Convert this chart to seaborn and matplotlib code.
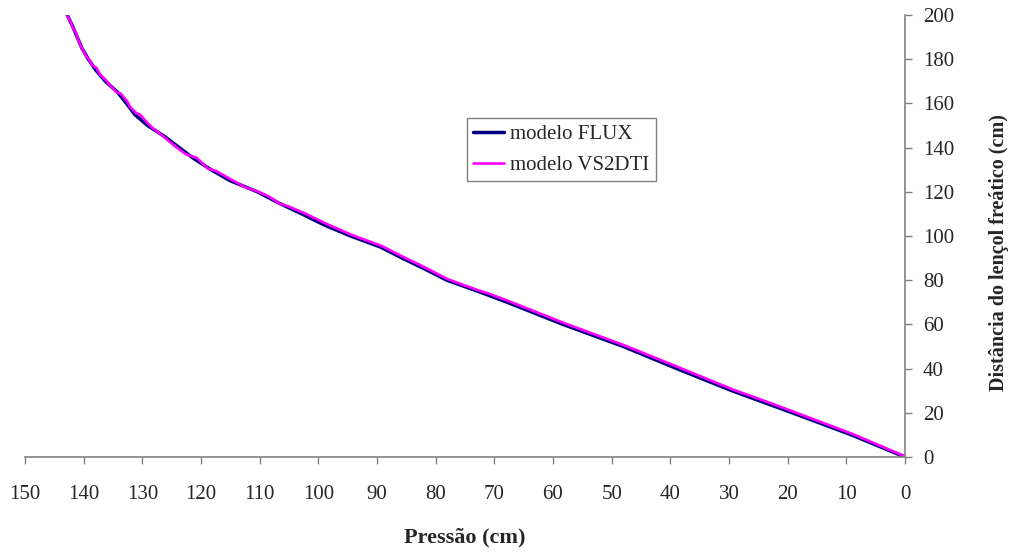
import matplotlib
matplotlib.use("Agg")
import matplotlib.pyplot as plt
import seaborn as sns
import pandas as pd

# ---- data ----
flux_depth = [0, 10, 20, 30, 40, 50, 60, 70, 75, 80, 85, 90, 95, 100, 105, 110,
              115, 120, 125, 130, 135, 140, 145, 150, 155, 160, 165, 170, 175,
              180, 185, 190, 195, 200]
flux_pressure = [0, 9.1, 19.2, 29.5, 38.9, 48.0, 58.3, 67.8, 72.8, 78.1, 81.8,
                 85.7, 89.4, 94.5, 99.0, 102.8, 106.8, 110.4, 115.0, 118.3,
                 121.2, 123.7, 126.2, 129.1, 131.3, 132.7, 134.2, 136.3, 137.9,
                 139.2, 140.3, 141.1, 141.9, 142.8]

vs_pressure = [0, 9.0, 19.0, 22.5, 29.3, 38.5, 47.8, 58.0, 67.5, 71.0, 72.8, 78.0,
               81.6, 85.5, 89.2, 94.3, 98.6, 102.5, 105.2, 106.5, 108.5, 110.2,
               112.4, 114.8, 117.5, 118.8, 120.8, 122.6, 124.6, 126.4, 128.3,
               129.6, 130.4, 131.0, 132.1, 132.6, 133.7, 134.4, 135.6, 136.2,
               137.2, 137.8, 138.6, 139.2, 139.5, 140.3, 140.5, 141.1, 141.3,
               141.9, 142.2, 142.8]
vs_depth = [0.3, 10.5, 20.5, 24.0, 30.5, 40.5, 50.5, 60.5, 70.5, 74.0, 75.5, 80.5,
            85.5, 90.5, 95.5, 100.5, 105.5, 110.5, 113.5, 114.5, 118.0, 120.0,
            122.0, 125.5, 129.5, 130.5, 135.5, 137.0, 141.0, 145.0, 149.0,
            152.5, 155.0, 155.5, 158.5, 161.0, 164.5, 165.0, 168.5, 170.5,
            173.0, 176.0, 177.5, 180.5, 181.0, 185.0, 186.0, 190.0, 192.0,
            194.5, 197.0, 199.5]

series_names = ["modelo FLUX", "modelo VS2DTI"]
x_ticks = [150, 140, 130, 120, 110, 100, 90, 80, 70, 60, 50, 40, 30, 20, 10, 0]
y_ticks = [0, 20, 40, 60, 80, 100, 120, 140, 160, 180, 200]

sns.set_style("white")
plt.rcParams["font.family"] = ["Liberation Serif", "DejaVu Serif"]

df_flux = pd.DataFrame({"p": flux_pressure, "d": flux_depth})
df_vs = pd.DataFrame({"p": vs_pressure, "d": vs_depth})

fig = plt.figure(figsize=(10.15, 5.53), dpi=100)
ax = fig.add_axes([0.0246, 0.1736, 0.8670, 0.7993])

sns.lineplot(data=df_flux, x="p", y="d", sort=False, estimator=None,
             color="#000080", linewidth=2.5, label=series_names[0], ax=ax)
sns.lineplot(data=df_vs, x="p", y="d", sort=False, estimator=None,
             color="#FF00FF", linewidth=1.9, label=series_names[1], ax=ax)

ax.set_xlim(150, 0)
ax.set_ylim(0, 200)
ax.set_xticks(x_ticks)
ax.set_yticks(y_ticks)
ax.yaxis.tick_right()
ax.yaxis.set_label_position("right")

for s in ["top", "left"]:
    ax.spines[s].set_visible(False)
for s in ["bottom", "right"]:
    ax.spines[s].set_visible(True)
    ax.spines[s].set_color("#808080")
    ax.spines[s].set_linewidth(1.2)

ax.tick_params(axis="x", direction="out", length=5, width=1, color="#808080",
               labelsize=15, pad=15, bottom=True)
ax.tick_params(axis="y", direction="out", length=5, width=1, color="#808080",
               labelsize=15, pad=8, right=True, left=False)

ax.set_xlabel("Pressão (cm)", fontsize=16, fontweight="bold", labelpad=17)
ax.set_ylabel("Distância do lençol freático (cm)", fontsize=14.5,
              fontweight="bold", labelpad=25, rotation=90, y=0.462)

leg = ax.legend(loc="lower left", bbox_to_anchor=(0.502, 0.624), fontsize=15,
                frameon=True, fancybox=False, shadow=False, borderpad=0.3,
                borderaxespad=0, handlelength=1.5, handletextpad=0.3,
                labelspacing=0.55)
leg.get_frame().set_edgecolor("#606060")
leg.get_frame().set_linewidth(1.0)

fig.savefig("out.png", dpi=100)
